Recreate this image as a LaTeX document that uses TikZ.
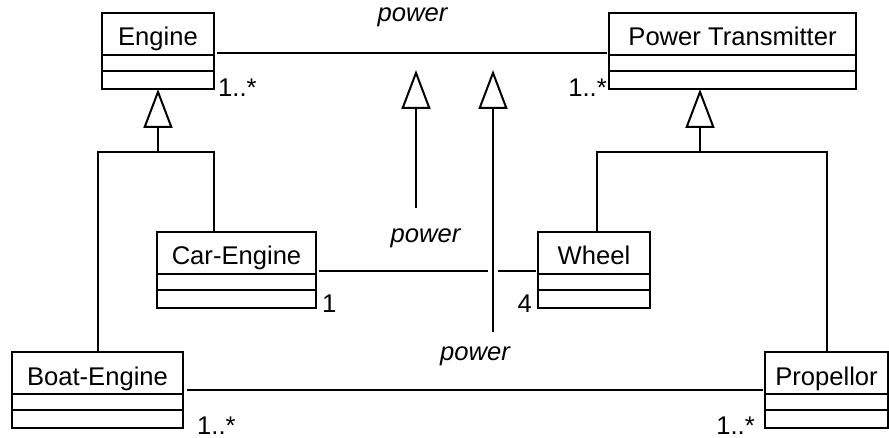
\documentclass[tikz,border=0pt]{standalone}
\usepackage{fontspec}
\setmainfont{Liberation Sans}
\usetikzlibrary{arrows.meta}
\begin{document}
\begin{tikzpicture}[x=1pt,y=-1pt,
  umlclass/.style={draw, line width=2pt, inner sep=0pt, outer sep=0pt, anchor=north west, minimum height=76pt},
  cname/.style={anchor=base, inner sep=0pt, font=\fontsize{25.6}{30}\selectfont},
  lbl/.style={inner sep=0pt, font=\fontsize{25.6}{30}\selectfont},
  role/.style={inner sep=0pt, anchor=base, font=\fontsize{25.6}{30}\selectfont\itshape},
  conn/.style={line width=2pt},
  assoc/.style={conn, shorten <=3pt, shorten >=2pt},
  gen/.style={conn, -{Triangle[open, length=39pt, width=29pt]}},
  gapline/.style={draw=white, line width=10pt}
]
\useasboundingbox (0,0) rectangle (889,438);
\newcommand\umldividers[1]{%
  \draw[conn] ([yshift=-42pt]#1.north west) -- ([yshift=-42pt]#1.north east)
              ([yshift=-58pt]#1.north west) -- ([yshift=-58pt]#1.north east);}

% classes
\node[umlclass, minimum width=112pt] (engine) at (102,13) {};
\node[cname] (engineN) at ([yshift=-33pt]engine.north) {Engine};
\umldividers{engine}

\node[umlclass, minimum width=247pt] (pt) at (609,13) {};
\node[cname] (ptN) at ([yshift=-33pt]pt.north) {Power Transmitter};
\umldividers{pt}

\node[umlclass, minimum width=159pt] (car) at (157,232) {};
\node[cname] (carN) at ([yshift=-33pt]car.north) {Car-Engine};
\umldividers{car}

\node[umlclass, minimum width=112pt] (wheel) at (538,232) {};
\node[cname] (wheelN) at ([yshift=-33pt]wheel.north) {Wheel};
\umldividers{wheel}

\node[umlclass, minimum width=171pt] (boat) at (12,352) {};
\node[cname] (boatN) at ([yshift=-33pt]boat.north) {Boat-Engine};
\umldividers{boat}

\node[umlclass, minimum width=123pt] (prop) at (765,352) {};
\node[cname] (propN) at ([yshift=-33pt]prop.north) {Propellor};
\umldividers{prop}

% associations
\draw[assoc] ([yshift=-40pt]engine.north east) -- ([yshift=-40pt]pt.north west);
\draw[assoc] ([yshift=-39pt]car.north east) -- ([yshift=-39pt]wheel.north west);
\draw[assoc, shorten <=4pt] ([yshift=-38pt]boat.north east) -- ([yshift=-38pt]prop.north west);

% generalizations of classes
\coordinate (jE) at (158,152);
\coordinate (jEr) at (214,152);
\draw[conn] (boat.north) |- (jEr) -- (jEr |- car.north);
\draw[gen] (jE) -- (engine.south);

\coordinate (jP) at (700,152);
\coordinate (jPl) at (597,152);
\draw[conn] (prop.north) |- (jPl) -- (jPl |- wheel.north);
\draw[gen] (jP) -- (jP |- pt.south);

% generalizations of associations
\coordinate (a1foot) at (416,208);
\coordinate (a1head) at (416,70);
\draw[gen] (a1foot) -- (a1head);

\coordinate (a2foot) at (493,332);
\coordinate (a2head) at (493,70);
\path[gapline] (a2foot) -- (a2head);
\draw[gen] (a2foot) -- (a2head);

% labels
\node[role] (r1) at (412.5,22) {power};
\node[role] (r2) at (425.5,243) {power};
\node[role] (r3) at (475,360) {power};
\node[lbl, anchor=base west] (m1) at (218,97) {1..*};
\node[lbl, anchor=base east] (m2) at (607,97) {1..*};
\node[lbl, anchor=base west] (m3) at (322,313) {1};
\node[lbl, anchor=base east] (m4) at (532,313) {4};
\node[lbl, anchor=base west] (m5) at (197,434) {1..*};
\node[lbl, anchor=base east] (m6) at (755,434) {1..*};
\end{tikzpicture}
\end{document}
